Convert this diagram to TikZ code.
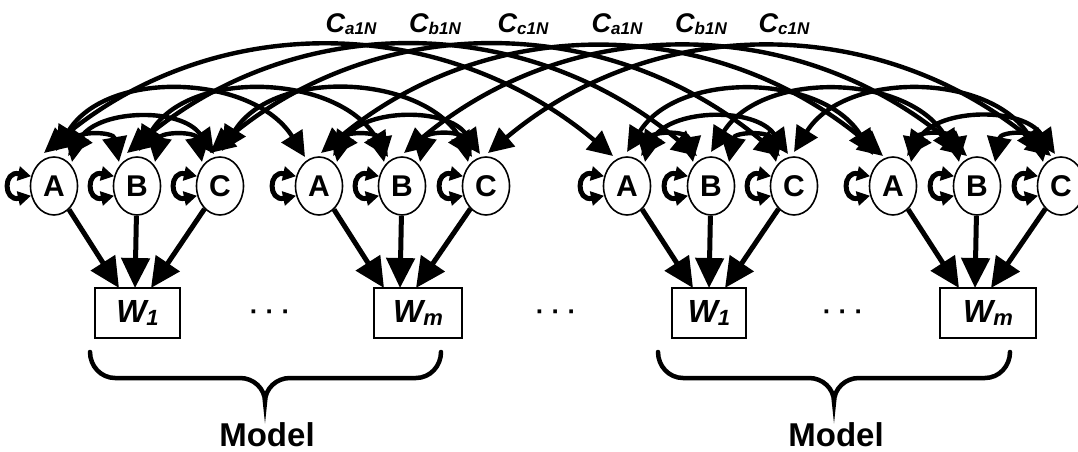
\documentclass[tikz,border=0pt]{standalone}
\usepackage{fontspec}
\setmainfont{Liberation Sans}
\usetikzlibrary{arrows.meta,shapes.geometric,calc}
\newcommand{\clabel}[1]{\textit{C\raisebox{-2pt}{\fontsize{17}{17}\selectfont #1}}}
\newcommand{\wlabel}[1]{\textit{W\raisebox{-3pt}{\fontsize{22}{22}\selectfont #1}}}
\begin{document}
\begin{tikzpicture}[x=1pt,y=1pt,
  nd/.style={ellipse, draw, line width=1.6pt, fill=white, minimum width=47pt,
    minimum height=58pt, inner sep=0pt, font=\fontsize{30}{30}\selectfont\bfseries},
  wbox/.style={draw, line width=1.8pt, minimum height=50pt, inner sep=0pt,
    font=\fontsize{32}{34}\selectfont\bfseries},
  arc/.style={line width=4.4pt, arrows={Triangle[length=25pt,width=24pt]-Triangle[length=25pt,width=24pt]}},
  warr/.style={line width=5pt, arrows={-Triangle[length=30pt,width=28pt]}},
  selfloop/.style={line width=5pt, arrows={Triangle[length=13pt,width=14pt]-Triangle[length=13pt,width=14pt]}},
  brace/.style={line width=4.5pt, line cap=round},
  clab/.style={anchor=base, font=\fontsize{27}{28}\selectfont\bfseries},
  dots/.style={font=\fontsize{26}{26}\selectfont\bfseries},
  model/.style={anchor=base, font=\fontsize{33}{34}\selectfont\bfseries}]
\useasboundingbox (0,0) rectangle (1078,451);
\clip (0,0) rectangle (1078,451);

% A, B, C nodes of the four components
\node[nd] (a1) at (54,265) {A};
\node[nd] (b1) at (137,265) {B};
\node[nd] (c1) at (220,265) {C};
\node[nd] (a2) at (319,265) {A};
\node[nd] (b2) at (402,265) {B};
\node[nd] (c2) at (486,265) {C};
\node[nd] (a3) at (627,265) {A};
\node[nd] (b3) at (711,265) {B};
\node[nd] (c3) at (794,265) {C};
\node[nd] (a4) at (893,265) {A};
\node[nd] (b4) at (977,265) {B};
\node[nd] (c4) at (1061,265) {C};

% W boxes
\node[wbox, minimum width=85pt] (w1) at (137.5,138) {\wlabel{1}};
\node[wbox, minimum width=88pt] (w2) at (418,138) {\wlabel{m}};
\node[wbox, minimum width=74pt] (w3) at (709,138) {\wlabel{1}};
\node[wbox, minimum width=96pt] (w4) at (988,138) {\wlabel{m}};

% dots between boxes
\node[dots] (d1) at (270,136) {· · ·};
\node[dots] (d2) at (556,136) {· · ·};
\node[dots] (d3) at (843,136) {· · ·};

% self loops
\foreach \n in {a1,b1,c1,a2,b2,c2,a3,b3,c3,a4,b4,c4}
  \draw[selfloop] (\n.157) .. controls +(-28,6) and +(-28,-6) .. (\n.203);

% arrows into the W boxes
\foreach \g in {1,2,3,4}{
  \draw[warr] (a\g) -- ($(b\g)+(-18,-102)$);
  \draw[warr] (b\g) -- ($(b\g)+(-2,-102)$);
  \draw[warr] (c\g) -- ($(b\g)+(14,-102)$);
}

% couplings inside each component
\foreach \g in {1,2,3,4}{
  \draw[arc] ($(a\g)+(18,24)$) to[out=80,in=100,looseness=1.7] ($(b\g)+(-18,24)$);
  \draw[arc] ($(b\g)+(18,24)$) to[out=80,in=100,looseness=1.7] ($(c\g)+(-18,24)$);
  \draw[arc] ($(a\g)+(14,30)$) to[out=55,in=125] ($(c\g)+(-6,32)$);
}

% couplings between components of one model
\foreach \x in {a,b,c}{
  \draw[arc] ($(\x1)+(2,35)$) to[out=58,in=122] ($(\x2)+(-14,29)$);
  \draw[arc] ($(\x3)+(0,34)$) to[out=58,in=122] ($(\x4)+(-20,31)$);
}

% couplings between the two models
\foreach \x in {a,b,c}{
  \draw[arc] ($(\x1)+(-10,33)$) to[out=40,in=140] ($(\x3)+(-14,30)$);
  \draw[arc] ($(\x2)+(2,33)$) to[out=40,in=140] ($(\x4)+(-10,30)$);
}

% coupling labels
\node[clab] (l1) at (351,418) {\clabel{a1N}};
\node[clab] (l2) at (435,418) {\clabel{b1N}};
\node[clab] (l3) at (523,418) {\clabel{c1N}};
\node[clab] (l4) at (617,418) {\clabel{a1N}};
\node[clab] (l5) at (701,418) {\clabel{b1N}};
\node[clab] (l6) at (784,418) {\clabel{c1N}};

% braces
\draw[brace] (90,99) to[out=-90,in=180] (115,73) -- (240,73)
  to[out=0,in=90] (265,49) to[out=90,in=180] (290,73) -- (416,73)
  to[out=0,in=-90] (441,99);
\draw[brace] (658,99) to[out=-90,in=180] (683,73) -- (809,73)
  to[out=0,in=90] (834,49) to[out=90,in=180] (859,73) -- (985,73)
  to[out=0,in=-90] (1010,99);

\node[model] (m1) at (267,5) {Model};
\node[model] (m2) at (836,5) {Model};
\end{tikzpicture}
\end{document}
